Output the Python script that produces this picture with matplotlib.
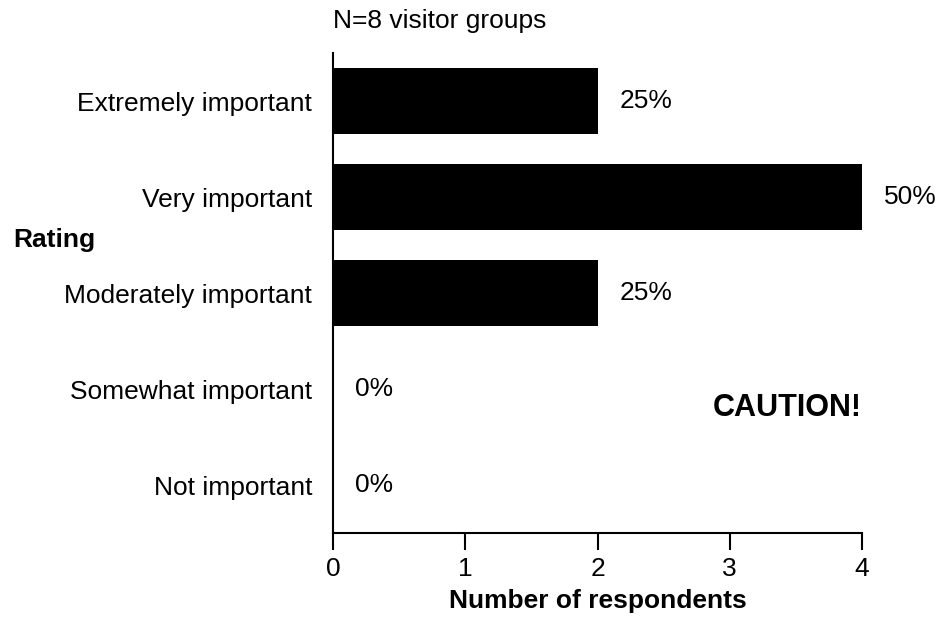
import matplotlib
matplotlib.use("Agg")
import matplotlib.pyplot as plt

# data
ratings = ["Extremely important", "Very important", "Moderately important",
           "Somewhat important", "Not important"]
counts = [2, 4, 2, 0, 0]
pct_labels = ["25%", "50%", "25%", "0%", "0%"]
x_ticks = [0, 1, 2, 3, 4]

plt.rcParams['font.family'] = ['Liberation Sans', 'DejaVu Sans']
FS = 19

fig = plt.figure(figsize=(9.38, 6.22), dpi=100)
ax = fig.add_axes([333 / 938, 1 - 533 / 622, (862 - 333) / 938, (533 - 53) / 622])

pos = list(range(len(ratings)))
ax.barh(pos, counts, height=0.69, color="black")

for y, c, lab in zip(pos, counts, pct_labels):
    ax.annotate(lab, (c, y), xytext=(16, 0), textcoords="offset points",
                va="center", ha="left", fontsize=FS)

ax.set_ylim(4.5, -0.5)
ax.set_xlim(0, 4)
ax.set_yticks(pos)
ax.set_yticklabels(ratings, fontsize=FS)
ax.set_xticks(x_ticks)
ax.set_xticklabels([str(t) for t in x_ticks], fontsize=FS)
ax.tick_params(axis="y", length=0, pad=15)
ax.tick_params(axis="x", length=12, width=1.5, pad=5, direction="out")

for side in ["top", "right"]:
    ax.spines[side].set_visible(False)
ax.spines["left"].set_linewidth(1.5)
ax.spines["bottom"].set_linewidth(1.5)

ax.set_xlabel("Number of respondents", fontsize=FS, fontweight="bold", labelpad=6)
ax.set_title("N=8 visitor groups", loc="left", fontsize=FS, pad=18)

fig.text(13 / 938, 1 - 240 / 622, "Rating", fontsize=FS, fontweight="bold",
         ha="left", va="center")
ax.text(4, 3.2, "CAUTION!", fontsize=22, fontweight="bold", ha="right", va="center")

fig.savefig("out.png", dpi=100)
